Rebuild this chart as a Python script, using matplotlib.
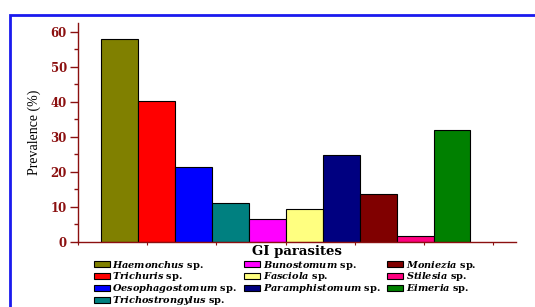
import matplotlib
matplotlib.use("Agg")
import matplotlib.pyplot as plt
from matplotlib.patches import Rectangle, Patch
from matplotlib.ticker import MultipleLocator

plt.rcParams['font.family'] = ['Liberation Serif', 'DejaVu Serif']
plt.rcParams['mathtext.fontset'] = 'custom'
plt.rcParams['mathtext.rm'] = 'DejaVu Serif:bold'
plt.rcParams['mathtext.it'] = 'DejaVu Serif:bold:italic'
plt.rcParams['mathtext.bf'] = 'DejaVu Serif:bold'

# =======================
# Data
# =======================
genus = ["Haemonchus", "Trichuris", "Oesophagostomum", "Trichostrongylus",
         "Bunostomum", "Fasciola", "Paramphistomum", "Moniezia", "Stilesia", "Eimeria"]
prevalence = [57.8, 40.1, 21.4, 11.0, 6.6, 9.3, 24.9, 13.8, 1.8, 31.9]
colors = ["#808000", "#FF0000", "#0000FF", "#008080", "#FF00FF",
          "#FFFF80", "#000080", "#800000", "#FF0080", "#008000"]

axis_red = "#8B1010"

# =======================
# Plot
# =======================
fig = plt.figure(figsize=(5.35, 3.07), dpi=100)
W, H = 535, 307
ax = fig.add_axes([78 / W, 1 - 242 / H, (516 - 78) / W, (242 - 23) / H])

x = list(range(len(genus)))
ax.bar(x, prevalence, width=1.0, color=colors, edgecolor="black", linewidth=0.8)

x0, x1 = -1.11, 10.73
ax.set_xlim(x0, x1)
ax.set_ylim(0, 62.5)

for s in ["top", "right"]:
    ax.spines[s].set_visible(False)
for s in ["left", "bottom"]:
    ax.spines[s].set_color(axis_red)
    ax.spines[s].set_linewidth(1.0)

ax.yaxis.set_major_locator(MultipleLocator(10))
ax.yaxis.set_minor_locator(MultipleLocator(5))
ax.tick_params(axis="y", which="major", direction="out", length=6, width=1,
               color=axis_red, labelcolor=axis_red, labelsize=8.5, pad=2)
ax.tick_params(axis="y", which="minor", direction="out", length=3, width=1, color=axis_red)
for lab in ax.get_yticklabels():
    lab.set_fontweight("bold")
    lab.set_family("DejaVu Serif")

# small unlabelled ticks along the x axis
step = 1.87
ax.set_xticks([x0 + k * step for k in range(7)])
ax.set_xticklabels([])
ax.tick_params(axis="x", direction="out", length=2, width=0.8, color=axis_red)

ax.set_ylabel("Prevalence (%)", fontsize=10, color="black", labelpad=7)
ax.set_xlabel("GI parasites", fontsize=9.5, fontweight="bold", family="DejaVu Serif")
ax.xaxis.set_label_coords(0.5, -3 / 219)

handles = [Patch(facecolor=c, edgecolor="black", linewidth=0.8) for c in colors]
labels = [r"$\mathit{" + g + r"}$ sp." for g in genus]
leg = fig.legend(handles, labels, ncol=3, loc="upper left",
                 bbox_to_anchor=(94 / W, 1 - 258.5 / H), frameon=False,
                 prop={"family": "DejaVu Serif", "weight": "bold", "size": 7},
                 handlelength=1.6, handleheight=0.5, handletextpad=0.3,
                 labelspacing=-0.11, columnspacing=0.7, borderpad=0, borderaxespad=0)

# blue frame
fig.patches.append(Rectangle((10 / W, -0.1), 1.2, 1 - 15 / H + 0.1,
                             transform=fig.transFigure, fill=False,
                             edgecolor="#1a1aee", linewidth=2, clip_on=False))

fig.savefig("out.png", dpi=100)
